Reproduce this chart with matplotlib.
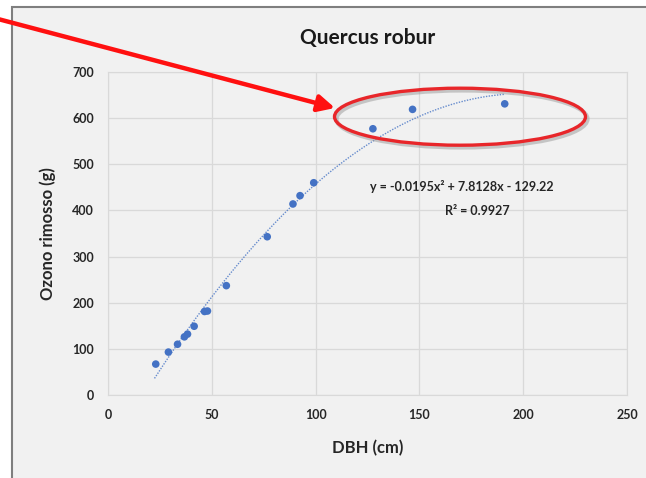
import matplotlib.pyplot as plt
import numpy as np
from matplotlib.patches import Ellipse, Rectangle

plt.rcParams["font.family"] = ["Lato", "DejaVu Sans"]

# DBH (cm) and ozone removed (g)
dbh = [23.0, 29.1, 33.5, 36.8, 38.3, 41.5, 46.5, 47.9, 57.0, 76.7, 89.1, 92.5, 99.1, 127.6, 146.7, 191.1]
ozone = [67, 93, 110, 126, 132, 149, 181, 182, 237, 343, 414, 432, 460, 577, 619, 631]

# Excel polynomial trendline, as printed on the chart
coef = [-0.0195, 7.8128, -129.22]
r2 = 0.9927

xticks = [0, 50, 100, 150, 200, 250]
yticks = [0, 100, 200, 300, 400, 500, 600, 700]

bg = "#f1f1f1"
blue = "#4472c4"
txt = "#262626"

fig = plt.figure(figsize=(6.46, 4.78), dpi=100)
fig.patch.set_facecolor("white")

# chart area frame of the screenshot
fig.patches.append(Rectangle((12, -5), 700, 476, transform=None, facecolor=bg,
                             edgecolor="#7f7f7f", linewidth=1.5, zorder=-1))

ax = fig.add_axes([108 / 646, 1 - 395 / 478, 519 / 646, 323 / 478])
ax.set_zorder(1)
ax.set_facecolor(bg)

xs = np.linspace(min(dbh) - 0.6, max(dbh), 200)
ax.plot(xs, np.polyval(coef, xs), color=blue, linestyle=(0, (1, 1)), linewidth=1.0, alpha=0.8)
ax.scatter(dbh, ozone, s=30, color=blue, zorder=3, edgecolors="none")

ax.set_xlim(0, 250)
ax.set_ylim(0, 700)
ax.set_xticks(xticks)
ax.set_yticks(yticks)
ax.grid(color="#d9d9d9", linewidth=0.9)
ax.set_axisbelow(True)
for s in ax.spines.values():
    s.set_color("#d9d9d9")
ax.tick_params(length=0, labelsize=9, labelcolor=txt, pad=10)
for lab in ax.get_xticklabels() + ax.get_yticklabels():
    lab.set_fontweight("bold")

ax.set_title("Quercus robur", fontsize=15, fontweight="bold", color="#1a1a1a", pad=20)
ax.set_xlabel("DBH (cm)", fontsize=12, fontweight="bold", color=txt, labelpad=14)
ax.set_ylabel("Ozono rimosso (g)", fontsize=12, fontweight="bold", color=txt, labelpad=12)

eq = f"y = {coef[0]:.4f}x² + {coef[1]:.4f}x - {-coef[2]:.2f}"
ax.text(0.858, 0.645, eq, transform=ax.transAxes, ha="right", va="center",
        fontsize=9, fontweight="bold", color=txt)
ax.text(0.774, 0.57, f"R² = {r2}", transform=ax.transAxes, ha="right", va="center",
        fontsize=9, fontweight="bold", color=txt)

# highlight: red ellipse with soft shadow and arrow
shadow = Ellipse((462, 478 - 119), 251, 57, transform=None, fill=False,
                 edgecolor="#999999", linewidth=3, alpha=0.5, zorder=5)
ring = Ellipse((460, 478 - 116.7), 251, 57, transform=None, fill=False,
               edgecolor="#e8262a", linewidth=2.4, zorder=6)
fig.patches.extend([shadow, ring])

ax.annotate("", xy=(335, 478 - 108), xycoords="figure pixels",
            xytext=(-2, 478 - 19), textcoords="figure pixels",
            arrowprops=dict(arrowstyle="-|>,head_length=1.0,head_width=0.5",
                            color="#ff1010", linewidth=3.2, shrinkA=0, shrinkB=0),
            annotation_clip=False, zorder=7)

fig.savefig("out.png", dpi=100)
